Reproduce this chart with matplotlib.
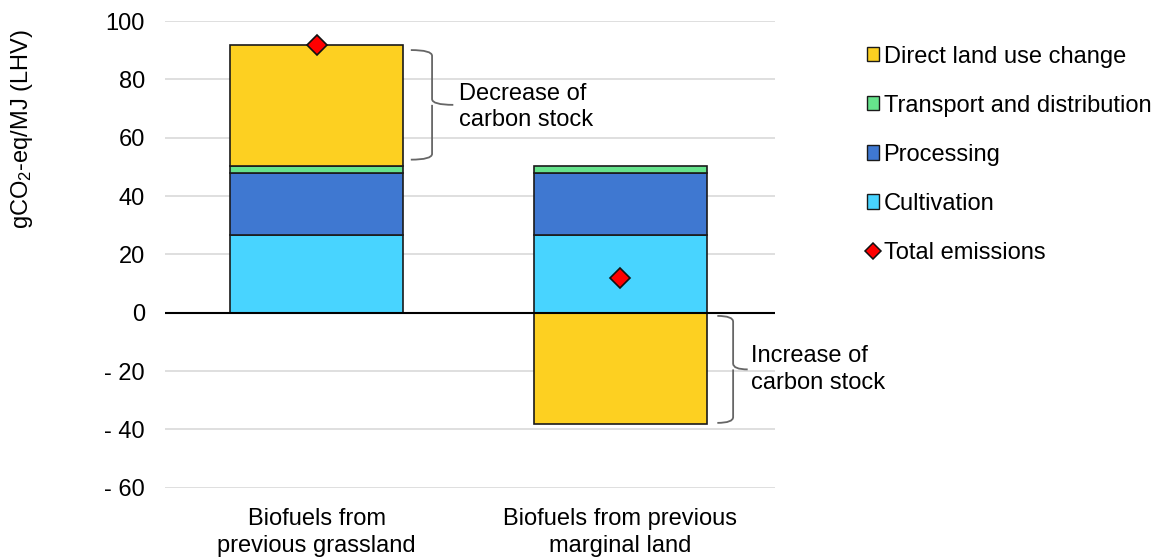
import matplotlib
matplotlib.use("Agg")
import matplotlib.pyplot as plt
from matplotlib.patches import Patch, PathPatch
from matplotlib.lines import Line2D
from matplotlib.path import Path
import numpy as np

plt.rcParams['font.family'] = ['Liberation Sans', 'DejaVu Sans']
plt.rcParams['mathtext.fontset'] = 'custom'
plt.rcParams['mathtext.rm'] = 'Liberation Sans'
plt.rcParams['mathtext.default'] = 'regular'

categories = ["Biofuels from\nprevious grassland", "Biofuels from previous\nmarginal land"]
cultivation = [26.6, 26.6]
processing = [21.3, 21.3]
transport = [2.3, 2.3]
dluc = [41.8, -38.3]
total = [91.9, 11.8]
yticks = [100, 80, 60, 40, 20, 0, -20, -40, -60]
ytick_labels = ["100", "80", "60", "40", "20", "0", "- 20", "- 40", "- 60"]

c_cult = "#48D4FF"
c_proc = "#3F78D1"
c_trans = "#66E38C"
c_dluc = "#FDD021"
edge = "#1a1a1a"
FS = 17

fig = plt.figure(figsize=(11.58, 5.57), dpi=100)
ax = fig.add_axes([165/1158, 1-487.6/557, 610/1158, (487.6-21.2)/557])

x = np.arange(len(categories))
w = 0.57
cult = np.array(cultivation); proc = np.array(processing); tr = np.array(transport); dl = np.array(dluc)
ax.bar(x, cult, w, color=c_cult, edgecolor=edge, linewidth=1.2, zorder=3)
ax.bar(x, proc, w, bottom=cult, color=c_proc, edgecolor=edge, linewidth=1.2, zorder=3)
ax.bar(x, tr, w, bottom=cult+proc, color=c_trans, edgecolor=edge, linewidth=1.2, zorder=3)
pos_base = cult + proc + tr
dl_bottom = np.where(dl >= 0, pos_base, 0)
ax.bar(x, dl, w, bottom=dl_bottom, color=c_dluc, edgecolor=edge, linewidth=1.2, zorder=3)
ax.plot(x, total, linestyle='none', marker='D', markersize=10, markerfacecolor='#FF0000',
        markeredgecolor='#111111', markeredgewidth=1.2, zorder=5)

ax.axhline(0, color='black', linewidth=1.5, zorder=4)
ax.set_xlim(-0.5, 1.51)
ax.set_ylim(-60, 100)
ax.set_yticks(yticks)
ax.set_yticklabels(ytick_labels)
ax.set_xticks(x)
ax.set_xticklabels(categories, linespacing=1.24)
ax.tick_params(axis='both', length=0, labelsize=FS, colors='black')
ax.tick_params(axis='x', pad=15)
ax.tick_params(axis='y', pad=14.5)
ax.yaxis.grid(True, color='#D9D9D9', linewidth=1.2, zorder=0)
for s in ax.spines.values():
    s.set_visible(False)
ax.set_axisbelow(True)

ax.set_ylabel(r"gCO$_2$-eq/MJ (LHV)", fontsize=FS)
ax.yaxis.set_label_coords(-0.213, 0.768)


def brace(ax, x0, xm, xt, y_top, y_bot, r=2.0):
    ym = (y_top + y_bot) / 2
    verts = [(x0, y_top), (xm, y_top), (xm, y_top - r), (xm, ym + r), (xm, ym), (xt, ym),
             (xm, ym), (xm, ym - r), (xm, y_bot + r), (xm, y_bot), (x0, y_bot)]
    codes = [Path.MOVETO, Path.CURVE3, Path.CURVE3, Path.LINETO, Path.CURVE3, Path.CURVE3,
             Path.MOVETO, Path.LINETO, Path.LINETO, Path.CURVE3, Path.CURVE3]
    ax.add_patch(PathPatch(Path(verts, codes), fill=False, edgecolor='#666666', linewidth=1.3,
                           zorder=4, clip_on=False))

# grassland: decrease of carbon stock
brace(ax, x[0] + 0.31, x[0] + 0.38, x[0] + 0.45, total[0] - 1.8, pos_base[0] + 2.3)
ax.text(x[0] + 0.47, (total[0] + pos_base[0]) / 2 - 0.6, "Decrease of\ncarbon stock",
        fontsize=FS, ha='left', va='center', linespacing=1.25)
# marginal: increase of carbon stock
brace(ax, x[1] + 0.32, x[1] + 0.372, x[1] + 0.42, -1.1, dluc[1] + 0.5)
ax.text(x[1] + 0.43, dluc[1] / 2 - 0.3, "Increase of\ncarbon stock",
        fontsize=FS, ha='left', va='center', linespacing=1.25)

handles = [
    Patch(facecolor=c_dluc, edgecolor=edge, linewidth=1.0, label="Direct land use change"),
    Patch(facecolor=c_trans, edgecolor=edge, linewidth=1.0, label="Transport and distribution"),
    Patch(facecolor=c_proc, edgecolor=edge, linewidth=1.0, label="Processing"),
    Patch(facecolor=c_cult, edgecolor=edge, linewidth=1.0, label="Cultivation"),
    Line2D([], [], linestyle='none', marker='D', markersize=8, markerfacecolor='#FF0000',
           markeredgecolor='#111111', markeredgewidth=1.1, label="Total emissions"),
]
fig.legend(handles=handles, loc='upper left', bbox_to_anchor=(866.5/1158, 1-45.5/557),
           frameon=False, fontsize=FS, handlelength=0.55, handleheight=0.55,
           handletextpad=0.17, labelspacing=1.15, borderaxespad=0, borderpad=0)

fig.savefig("out.png", dpi=100)
